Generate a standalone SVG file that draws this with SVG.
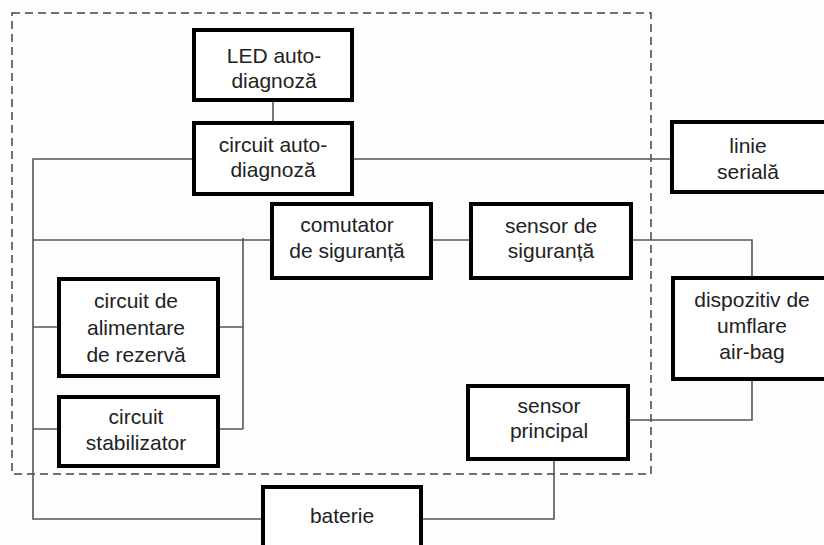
<svg xmlns="http://www.w3.org/2000/svg" width="824" height="545" viewBox="0 0 824 545">
<style>
.box{fill:#fff;stroke:#000;stroke-width:4}
.wire{fill:none;stroke:#555;stroke-width:1.6}
.frame{fill:none;stroke:#444;stroke-width:1.5;stroke-dasharray:8 5}
text{font-family:"Liberation Sans",Arial,sans-serif;font-size:21px;fill:#222;text-anchor:middle}
</style>
<rect width="824" height="545" fill="#fdfdfd"/>
<rect class="frame" x="12" y="13" width="639" height="461"/>
<g id="connectors">
<path class="wire" d="M273 102V121"/>
<path class="wire" d="M192 159H33V519H261"/>
<path class="wire" d="M354 159H670"/>
<path class="wire" d="M33 240H270"/>
<path class="wire" d="M243 238V429"/>
<path class="wire" d="M220 327H243M220 429H243"/>
<path class="wire" d="M33 327H57M33 429H57"/>
<path class="wire" d="M433 240H469"/>
<path class="wire" d="M633 240H752V276"/>
<path class="wire" d="M752 381V420H630"/>
<path class="wire" d="M554 461V519H423"/>
</g>
<g id="led"><rect class="box" x="194" y="30" width="158" height="70"/><text x="274" y="63">LED auto-</text><text x="274" y="88">diagnoză</text></g>
<g id="circuit-auto"><rect class="box" x="194" y="123" width="158" height="71"/><text x="273" y="152">circuit auto-</text><text x="273" y="177">diagnoză</text></g>
<g id="comutator"><rect class="box" x="272" y="204" width="159" height="74"/><text x="347" y="232">comutator</text><text x="347" y="258">de siguranță</text></g>
<g id="sensor-siguranta"><rect class="box" x="471" y="204" width="160" height="74"/><text x="551" y="233">sensor de</text><text x="551" y="258">siguranță</text></g>
<g id="linie"><rect class="box" x="672" y="122" width="156" height="70"/><text x="748" y="153">linie</text><text x="748" y="179">serială</text></g>
<g id="dispozitiv"><rect class="box" x="673" y="278" width="158" height="101"/><text x="752" y="307">dispozitiv de</text><text x="752" y="333">umflare</text><text x="752" y="359">air-bag</text></g>
<g id="sensor-principal"><rect class="box" x="468" y="386" width="160" height="73"/><text x="549" y="413">sensor</text><text x="549" y="438">principal</text></g>
<g id="circuit-alimentare"><rect class="box" x="59" y="279" width="159" height="97"/><text x="136" y="308">circuit de</text><text x="136" y="335">alimentare</text><text x="136" y="362">de rezervă</text></g>
<g id="circuit-stabilizator"><rect class="box" x="59" y="397" width="159" height="69"/><text x="136" y="424">circuit</text><text x="136" y="450">stabilizator</text></g>
<g id="baterie"><rect class="box" x="263" y="487" width="158" height="80"/><text x="342" y="523">baterie</text></g>
</svg>
